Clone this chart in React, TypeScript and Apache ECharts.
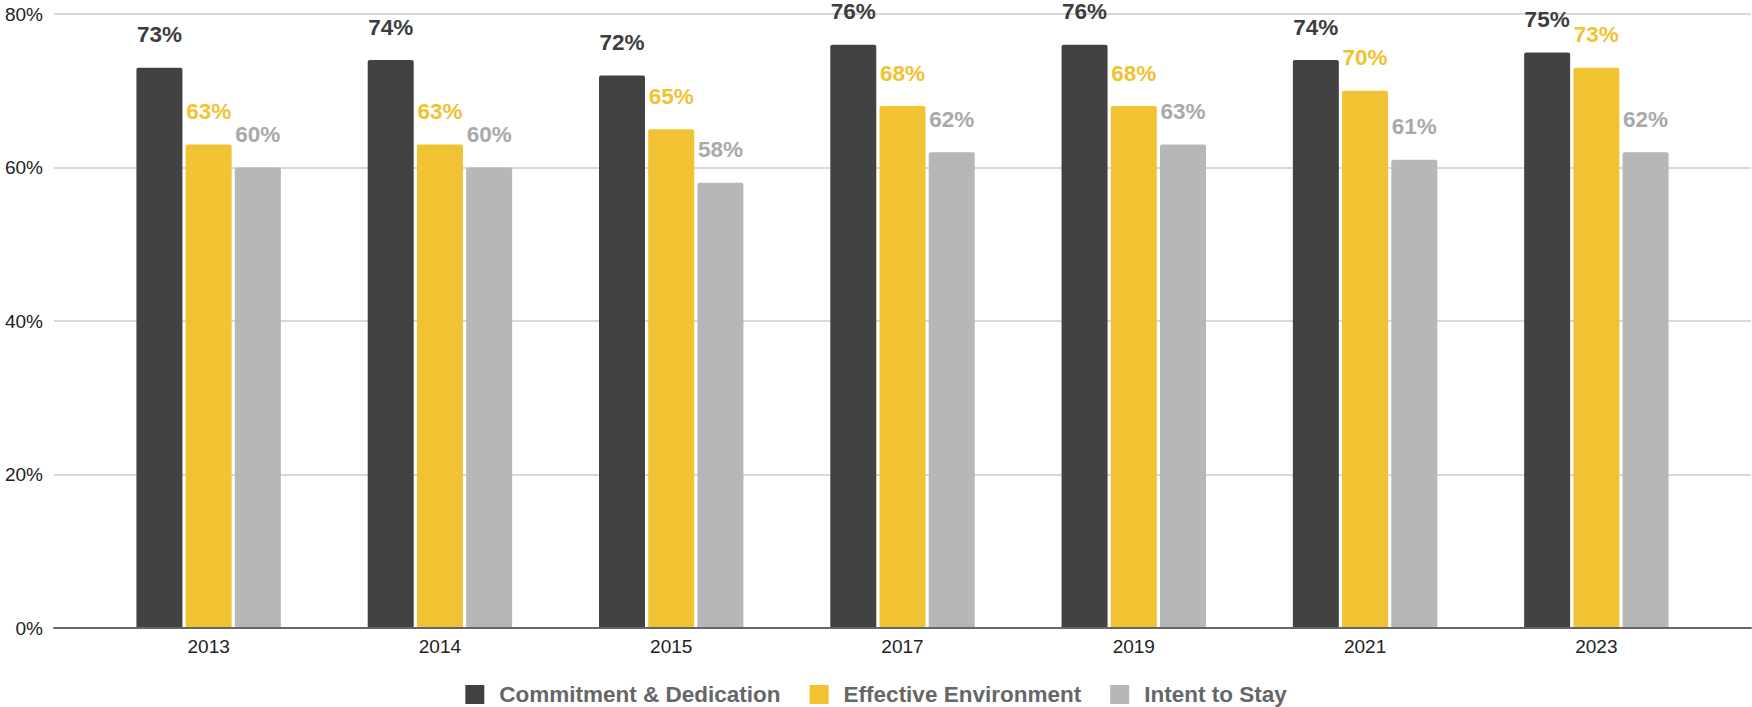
import React, { useEffect, useRef } from "react";
import * as echarts from "echarts";

const years = ["2013", "2014", "2015", "2017", "2019", "2021", "2023"];
const commitment = [73, 74, 72, 76, 76, 74, 75];
const effective = [63, 63, 65, 68, 68, 70, 73];
const intent = [60, 60, 58, 62, 63, 61, 62];
const seriesNames = ["Commitment & Dedication", "Effective Environment", "Intent to Stay"];
const colors = ["#424242", "#f1c232", "#b7b7b7"];
const labelColors = ["#3d3d3d", "#f1c232", "#a9a9a9"];

const FONT = "'Liberation Sans', Arial, Helvetica, sans-serif";

export default function App() {
  const ref = useRef<HTMLDivElement>(null);
  useEffect(() => {
    if (!ref.current) return;
    const chart = echarts.init(ref.current, undefined, { renderer: "svg" });
    const values = [commitment, effective, intent];
    const gridTop = 14;
    const gridBottom = 79;
    chart.setOption({
      animation: false,
      textStyle: { fontFamily: FONT },
      grid: [
        { left: 54, right: 1, top: gridTop, bottom: gridBottom },
        { left: 93, right: 40, top: gridTop, bottom: gridBottom },
      ],
      xAxis: [
        {
          gridIndex: 0,
          type: "value",
          min: 0,
          max: 1,
          axisLine: { show: true, onZero: false, lineStyle: { color: "#666666", width: 2 } },
          axisTick: { show: false },
          axisLabel: { show: false },
          splitLine: { show: false },
          z: 5,
        },
        {
          gridIndex: 1,
          type: "category",
          data: years,
          axisLine: { show: false },
          axisTick: { show: false },
          axisLabel: { color: "#222222", fontSize: 19, margin: 9, fontFamily: FONT },
        },
      ],
      yAxis: [
        {
          gridIndex: 0,
          type: "value",
          min: 0,
          max: 80,
          interval: 20,
          axisLine: { show: false },
          axisTick: { show: false },
          axisLabel: { color: "#222222", fontSize: 19, margin: 11, formatter: "{value}%", fontFamily: FONT },
          splitLine: { show: true, lineStyle: { color: "#d9d9d9", width: 2 } },
        },
        {
          gridIndex: 1,
          type: "value",
          min: 0,
          max: 80,
          show: false,
          splitLine: { show: false },
        },
      ],
      legend: {
        left: "center",
        top: 683,
        padding: 0,
        icon: "rect",
        itemWidth: 19,
        itemHeight: 19,
        itemGap: 29,
        textStyle: { color: "#666666", fontSize: 22.5, fontWeight: "bold", fontFamily: FONT, padding: [0, 0, 0, 10] },
        data: seriesNames,
      },
      series: seriesNames.map((name, i) => ({
        name,
        type: "bar",
        xAxisIndex: 1,
        yAxisIndex: 1,
        data: values[i],
        barWidth: 46,
        barGap: "7%",
        itemStyle: { color: colors[i], borderRadius: [2, 2, 0, 0] },
        label: {
          show: true,
          position: "top",
          distance: 23,
          formatter: "{c}%",
          color: labelColors[i],
          fontSize: 22.5,
          lineHeight: 20,
          fontWeight: "bold",
          fontFamily: FONT,
        },
      })),
    });
    return () => chart.dispose();
  }, []);
  return (
    <div
      ref={ref}
      style={{ position: "fixed", left: 0, top: 0, width: 1752, height: 707, background: "#ffffff" }}
    />
  );
}
